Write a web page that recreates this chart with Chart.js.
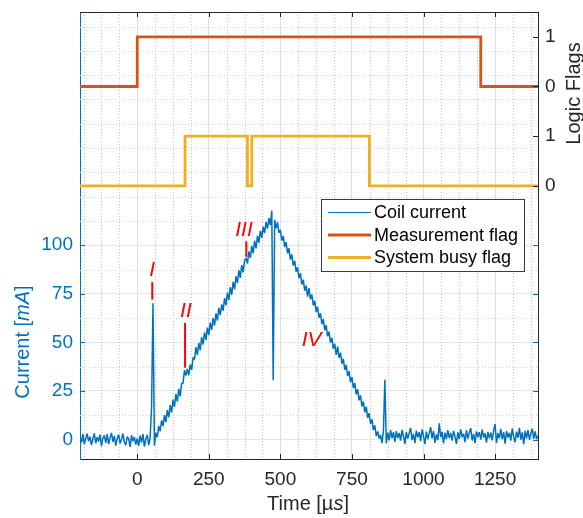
<!DOCTYPE html>
<html>
<head>
<meta charset="utf-8">
<script src="https://cdn.jsdelivr.net/npm/chart.js@4/dist/chart.umd.min.js"></script>
<style>
  html, body { margin: 0; padding: 0; background: #fff; }
  canvas { display: block; }
</style>
</head>
<body>
<canvas id="graph" width="583" height="518"></canvas>
<script>
// scope trace: coil current [mA], one sample every 5 µs starting at -200 µs
const tStart = -200;
const tStep = 5;
const current = [
  1.8, -1.6, 2.9, -2.4, 0.6, 3.1, -0.9, 1.5, -2.8, 0.4, 3.2, -1.9, 1.2, -1.0, 2.5, -3.4, 0.9, 2.2, -1.7, 2.8,
  -2.3, 1.0, 3.4, -1.2, 1.9, -3.1, 0.5, 2.6, -2.0, 0.2, 3.0, -1.4, -2.9, 1.5, 0.3, -3.8, 2.2, -0.9, 1.3, -2.6,
  0.6, -3.2, 2.1, -1.5, 2.8, -3.6, 0.3, 2.4, -2.9, 0.8, 16.5, 70.2, -3.2, 3.5, 1.2, 7.0, 4.3, 9.8, 6.9, 12.6,
  9.0, 15.2, 11.4, 17.8, 13.9, 20.6, 16.8, 23.4, 19.5, 26.1, 22.2, 28.9, 29.0, 35.8, 32.9, 36.4, 33.0, 38.6, 35.9, 42.3,
  41.2, 47.5, 43.6, 49.8, 46.0, 52.7, 48.9, 55.1, 51.3, 57.6, 53.8, 60.2, 56.4, 62.5, 58.7, 64.9, 61.2, 67.8, 64.0, 69.5,
  66.3, 72.8, 69.1, 75.6, 71.7, 78.4, 74.5, 81.2, 77.3, 84.0, 80.6, 87.1, 83.2, 89.8, 86.0, 92.3, 93.4, 90.6, 96.8, 93.5,
  99.6, 95.8, 102.3, 98.4, 104.9, 101.2, 107.4, 103.8, 109.6, 106.3, 112.0, 108.5, 113.9, 110.4, 117.8, 30.5, 113.1, 108.7, 111.8, 106.4,
  107.9, 102.3, 104.8, 99.1, 101.6, 95.9, 98.4, 92.6, 95.3, 89.5, 92.0, 86.4, 88.7, 83.0, 85.6, 79.9, 82.3, 76.6, 79.2, 73.5,
  77.9, 72.2, 74.6, 69.0, 71.5, 65.7, 68.3, 62.6, 65.0, 59.4, 62.0, 56.2, 58.8, 53.1, 55.5, 49.9, 52.4, 46.7, 49.3, 43.6,
  47.8, 42.1, 44.7, 39.0, 41.5, 35.8, 38.4, 32.7, 35.2, 29.6, 32.1, 26.5, 29.0, 23.3, 25.9, 20.2, 22.7, 17.1, 19.6, 14.0,
  16.9, 11.2, 13.6, 8.0, 10.5, 4.9, 7.3, 1.8, 4.2, 0.5, 2.4, -1.8, 4.5, 30.8, -2.0, 3.6, -0.4, 4.9, 0.8, 3.8,
  -1.2, 4.3, 0.8, 3.4, -0.6, 5.0, 1.7, -2.2, 3.9, 0.5, 3.3, 6.0, -0.3, 2.9, -1.8, 4.6, 1.2, 3.8, -0.8, 5.2,
  1.8, -2.3, 4.1, 0.2, 3.2, 6.4, 0.6, 4.4, -1.7, 2.7, -0.3, 8.3, 1.2, 4.0, -2.0, 3.5, 0.2, 4.9, 0.8, 3.4,
  -0.6, 4.5, 1.6, -2.2, 3.7, 0.3, 5.2, 1.2, 3.0, -1.3, 4.8, 0.5, 3.5, 5.9, -0.5, 2.9, -1.9, 4.2, 1.3, 3.8,
  0.0, 5.1, 1.0, 3.2, -1.6, 4.0, 0.7, 3.6, -0.4, 4.7, 8.0, -1.8, 3.3, 0.6, 5.5, 0.2, 3.8, -2.1, 4.3, 1.0,
  3.5, -0.5, 5.7, 1.4, -1.4, 4.1, 0.9, 6.0, 0.0, 3.7, -2.4, 4.5, 0.6, 4.9, -0.1, 3.1, 5.6, 0.4, 4.2, 0.2,
  2.1
];

// logic flags, value holds until the next edge
const measTime = [-200, 0, 1200, 1400];
const measFlag = [0, 1, 0, 0];
const busyTime = [-200, 167, 385, 400, 811, 1400];
const busyFlag = [0, 1, 0, 1, 0, 0];

const xTicks = [0, 250, 500, 750, 1000, 1250];
const currentTicks = [0, 25, 50, 75, 100];
const flagTicks = [0, 1, 2, 3];
const flagTickLabels = ['0', '1', '0', '1'];

// phase markers on the current trace
const noteText = ['I', 'II', 'III', 'IV'];
const noteX = [52, 170, 373, 609];
const noteY = [87, 66, 108, 51];
const markX = [52.5, 167, 381];
const markTop = [81, 60, 102];
const markBottom = [72, 37, 94];

const BLUE = '#0072BD', ORANGE = '#D95319', YELLOW = '#EDB120', AXIS = '#262626';
const family = '"Liberation Sans", Arial, Helvetica, sans-serif';
Chart.defaults.font.family = family;

const time = current.map((_, i) => tStart + i * tStep);
const measOffset = 2; // measurement flag sits above the busy flag on the right axis

function seg(ctx, x1, y1, x2, y2) {
  ctx.beginPath();
  ctx.moveTo(x1, y1);
  ctx.lineTo(x2, y2);
  ctx.stroke();
}

// fixed axis box, no extra label padding
function fixSize(prop, size) {
  return s => {
    s[prop] = size;
    s.paddingTop = s.paddingBottom = s.paddingLeft = s.paddingRight = 0;
  };
}

// text with some italic pieces, centred on (cx, cy)
function richText(ctx, parts, cx, cy, angle, size, color) {
  const fontOf = it => (it ? 'italic ' : '') + size + 'px ' + family;
  ctx.save();
  ctx.translate(cx, cy);
  ctx.rotate(angle);
  ctx.fillStyle = color;
  ctx.textBaseline = 'middle';
  ctx.textAlign = 'left';
  let total = 0;
  parts.forEach(([s, it]) => { ctx.font = fontOf(it); total += ctx.measureText(s).width; });
  let x = -total / 2;
  parts.forEach(([s, it]) => {
    ctx.font = fontOf(it);
    ctx.fillText(s, x, 0);
    x += ctx.measureText(s).width;
  });
  ctx.restore();
}

const decor = {
  id: 'decor',
  beforeDatasetsDraw(chart) {
    const { ctx, chartArea: a, scales: { x, y } } = chart;
    ctx.save();
    ctx.lineWidth = 1;
    ctx.setLineDash([1, 2]);
    ctx.strokeStyle = '#c6c6c6';
    for (let v = -187.5; v < 1400; v += 62.5) {
      if (v % 250 === 0) continue;
      const px = Math.round(x.getPixelForValue(v)) + 0.5;
      seg(ctx, px, a.top, px, a.bottom);
    }
    ctx.strokeStyle = '#bcd9ee';
    for (let v = 12.5; v < 220; v += 12.5) {
      if (v % 25 === 0 && v <= 100) continue;
      const py = Math.round(y.getPixelForValue(v)) + 0.5;
      seg(ctx, a.left, py, a.right, py);
    }
    ctx.restore();
  },
  afterDatasetsDraw(chart) {
    const { ctx, chartArea: a, scales: { x, y, y2 } } = chart;
    ctx.save();

    // box top edge and inward ticks
    ctx.lineWidth = 1;
    ctx.strokeStyle = AXIS;
    seg(ctx, a.left, a.top + 0.5, a.right, a.top + 0.5);
    xTicks.forEach(v => {
      const px = Math.round(x.getPixelForValue(v)) + 0.5;
      seg(ctx, px, a.bottom, px, a.bottom - 5);
      seg(ctx, px, a.top, px, a.top + 5);
    });
    flagTicks.forEach(v => {
      const py = Math.round(y2.getPixelForValue(v)) + 0.5;
      seg(ctx, a.right, py, a.right - 5, py);
    });
    ctx.strokeStyle = BLUE;
    currentTicks.forEach(v => {
      const py = Math.round(y.getPixelForValue(v)) + 0.5;
      seg(ctx, a.left, py, a.left + 5, py);
      seg(ctx, a.right, py, a.right - 5, py);
    });

    // phase markers
    ctx.strokeStyle = '#ff0000';
    ctx.lineWidth = 2;
    markX.forEach((v, i) => {
      const px = x.getPixelForValue(v);
      seg(ctx, px, y.getPixelForValue(markTop[i]), px, y.getPixelForValue(markBottom[i]));
    });
    ctx.fillStyle = '#ff0000';
    ctx.font = 'italic 21px ' + family;
    ctx.textAlign = 'center';
    ctx.textBaseline = 'middle';
    noteText.forEach((s, i) => {
      ctx.fillText(s, x.getPixelForValue(noteX[i]), y.getPixelForValue(noteY[i]));
    });

    // legend box
    const bx = 321.5, by = 199.5, bw = 203, bh = 72;
    ctx.fillStyle = '#ffffff';
    ctx.fillRect(bx, by, bw, bh);
    ctx.strokeStyle = '#3a3a3a';
    ctx.lineWidth = 1;
    ctx.strokeRect(bx, by, bw, bh);
    ctx.font = '18px ' + family;
    ctx.textAlign = 'left';
    ctx.fillStyle = '#000000';
    chart.data.datasets.forEach((ds, i) => {
      const ly = 212.5 + i * 22.5;
      ctx.strokeStyle = ds.borderColor;
      ctx.lineWidth = i === 0 ? 1.2 : ds.borderWidth;
      seg(ctx, 328, ly, 371, ly);
      ctx.fillText(ds.label, 374, ly + 1);
    });

    ctx.restore();
  },
  afterDraw(chart) {
    const { ctx } = chart;
    richText(ctx, [['Current [', false], ['mA', true], [']', false]], 23.5, 342, -Math.PI / 2, 20, BLUE);
    richText(ctx, [['Logic Flags', false]], 574, 93.5, -Math.PI / 2, 20, AXIS);
    richText(ctx, [['Time [µ', false], ['s', true], [']', false]], 308, 504, 0, 20, AXIS);
  }
};

new Chart(document.getElementById('graph'), {
  type: 'line',
  data: {
    datasets: [
      {
        label: 'Coil current',
        data: time.map((t, i) => ({ x: t, y: current[i] })),
        yAxisID: 'y',
        borderColor: BLUE,
        borderWidth: 1.5,
        borderJoinStyle: 'bevel',
        pointRadius: 0,
        tension: 0
      },
      {
        label: 'Measurement flag',
        data: measTime.map((t, i) => ({ x: t, y: measFlag[i] + measOffset })),
        yAxisID: 'y2',
        stepped: 'before',
        borderColor: ORANGE,
        borderWidth: 2.8,
        pointRadius: 0
      },
      {
        label: 'System busy flag',
        data: busyTime.map((t, i) => ({ x: t, y: busyFlag[i] })),
        yAxisID: 'y2',
        stepped: 'before',
        borderColor: YELLOW,
        borderWidth: 2.8,
        pointRadius: 0
      }
    ]
  },
  options: {
    responsive: false,
    animation: false,
    devicePixelRatio: 1,
    layout: { padding: { top: 12, left: 0, right: 0, bottom: 0 } },
    plugins: { legend: { display: false }, tooltip: { enabled: false } },
    scales: {
      x: {
        type: 'linear',
        min: -200,
        max: 1400,
        afterBuildTicks: s => { s.ticks = xTicks.map(v => ({ value: v })); },
        afterFit: fixSize('height', 59),
        grid: { color: '#dfdfdf', drawTicks: false },
        border: { color: AXIS },
        ticks: { color: AXIS, font: { size: 19 }, padding: 9, maxRotation: 0, autoSkip: false, callback: v => String(v) }
      },
      y: {
        position: 'left',
        min: -10,
        max: 220,
        afterBuildTicks: s => { s.ticks = currentTicks.map(v => ({ value: v })); },
        afterFit: fixSize('width', 80),
        grid: { color: '#d9eaf5', drawTicks: false },
        border: { color: BLUE },
        ticks: { color: BLUE, font: { size: 19 }, padding: 7, callback: v => String(v) }
      },
      y2: {
        position: 'right',
        min: -5.5,
        max: 3.5,
        afterBuildTicks: s => { s.ticks = flagTicks.map(v => ({ value: v })); },
        afterFit: fixSize('width', 45),
        grid: { display: false, drawTicks: false },
        border: { color: AXIS },
        ticks: { color: AXIS, font: { size: 19 }, padding: 7, callback: (v, i) => flagTickLabels[i] }
      }
    }
  },
  plugins: [decor]
});
</script>
</body>
</html>
